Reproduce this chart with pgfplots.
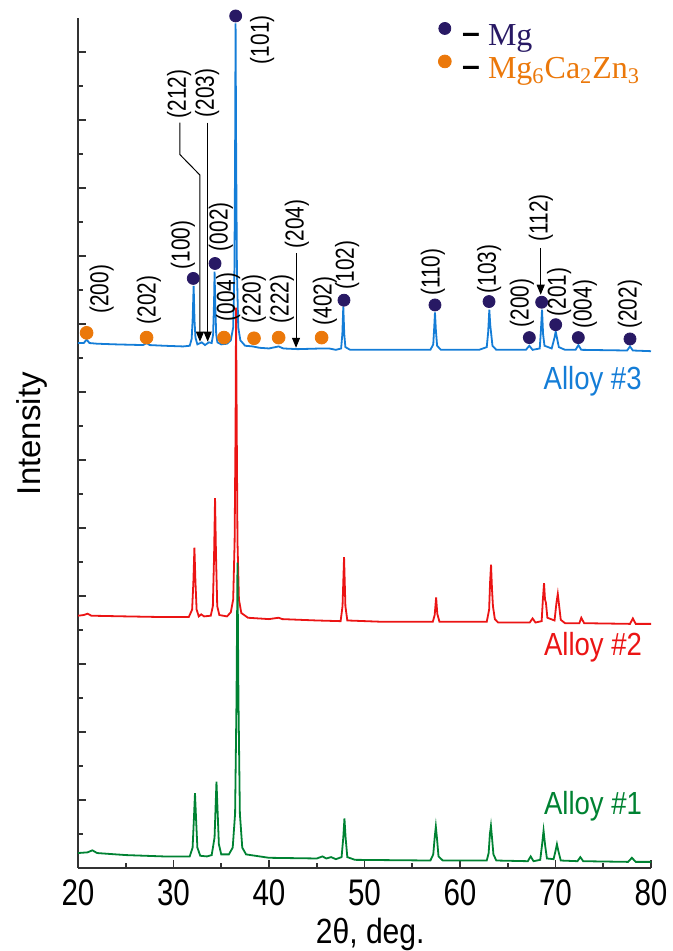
\documentclass[border=0pt]{standalone}
\usepackage{fontspec}
\setmainfont{Liberation Sans}
\newfontfamily\ticknarrow{Liberation Sans}[FakeStretch=0.80]
\newfontfamily\narrow{Liberation Sans}[FakeStretch=0.86]
\newfontfamily\annfont{Liberation Sans}[FakeStretch=0.80]
\newfontfamily\timesfont{Liberation Serif}
\usepackage{pgfplots}
\pgfplotsset{compat=1.18}
\usetikzlibrary{calc,arrows.meta}
\definecolor{cblue}{RGB}{20,125,215}
\definecolor{cred}{RGB}{235,20,20}
\definecolor{cgreen}{RGB}{0,130,50}
\definecolor{cnavy}{RGB}{40,25,100}
\definecolor{corange}{RGB}{235,120,10}
\definecolor{caxis}{RGB}{50,50,50}
\tikzset{ann/.style={rotate=90, inner sep=0pt, font=\annfont\fontsize{13}{13}\selectfont},
  arr/.style={line width=0.5pt, -{Triangle[length=5pt,width=4pt]}}}
\pgfplotsset{dotlegend/.style={legend image code/.code={\draw[##1] plot coordinates {(3pt,3.8pt)};}}}
\newcommand{\ldash}{\raisebox{0.8pt}{\rmfamily\bfseries –}}
\begin{document}
\begin{tikzpicture}
\begin{axis}[name=ax,
  scale only axis, width=286.5pt, height=425pt,
  xmin=20, xmax=80, ymin=0, ymax=12.5,
  axis lines*=left, clip=false,
  axis line style={caxis, line width=1pt},
  every tick/.style={caxis, line width=0.8pt},
  tick align=inside,
  major tick length=4pt, minor tick length=2.5pt,
  xtick={20,30,...,80}, minor x tick num=1,
  ytick={0,1,...,12}, minor y tick num=1, yticklabels={},
  /pgf/number format/assume math mode=true,
  xticklabel style={font=\ticknarrow\fontsize{18.5}{20}\selectfont, anchor=north, inner sep=0pt, yshift=-5.5pt},
  xlabel={2θ, deg.},
  xlabel style={at={(axis description cs:0.51,0)}, anchor=base, inner sep=0pt, yshift=-37.5pt, font=\narrow\fontsize{17.5}{19}\selectfont},
  ylabel={Intensity},
  ylabel style={at={(axis description cs:-0.0663,0.511)}, anchor=base, inner sep=0pt, font=\fontsize{16.5}{18}\selectfont},
  legend style={at={(axis cs:57.7,12.44)}, anchor=north west, draw=none, fill=none, inner sep=0pt,
    font=\timesfont\fontsize{16}{18}\selectfont, row sep=3pt, nodes={inner sep=0.5pt},
    /tikz/every odd column/.append style={column sep=5pt}},
  legend cell align=left,
]
% Alloy #3
\addplot[cblue, line width=0.9pt, forget plot] coordinates {
(20.0,7.72) (20.6,7.72) (20.9,7.77) (21.2,7.72) (22,7.71) (24,7.70) (26.8,7.69) (27.2,7.72) (27.5,7.69) (29,7.68) (31,7.67) (31.7,7.68) (31.9,7.78) (32.0,8.05) (32.11,8.56) (32.2,8.05) (32.3,7.80) (32.5,7.70) (32.95,7.73) (33.3,7.69) (33.7,7.73) (34.0,7.72) (34.15,7.85) (34.25,8.35) (34.3,8.77) (34.37,8.30) (34.47,7.85) (34.6,7.73) (35.0,7.70) (35.6,7.71) (36.0,7.76) (36.25,7.95) (36.38,8.8) (36.45,10.5) (36.5,12.42) (36.56,10.5) (36.64,8.8) (36.78,7.95) (37.0,7.76) (37.5,7.68) (38.3,7.67) (39,7.65) (40,7.64) (41.0,7.67) (41.5,7.64) (43,7.63) (45.5,7.64) (46.3,7.64) (47.0,7.62) (47.55,7.64) (47.68,7.85) (47.78,8.26) (47.88,7.85) (48.0,7.66) (48.5,7.62) (52,7.62) (56.9,7.62) (57.2,7.70) (57.3,7.95) (57.38,8.17) (57.47,7.92) (57.6,7.68) (58,7.62) (62,7.62) (62.8,7.66) (62.95,7.88) (63.07,8.21) (63.17,7.98) (63.27,7.85) (63.4,7.68) (63.8,7.62) (66.9,7.62) (67.26,7.68) (67.6,7.62) (68.35,7.64) (68.47,7.9) (68.59,8.21) (68.7,7.85) (68.85,7.68) (69.6,7.64) (69.9,7.80) (70.02,7.89) (70.12,7.82) (70.35,7.66) (71,7.62) (72.1,7.62) (72.4,7.69) (72.7,7.62) (77.5,7.61) (77.8,7.67) (78.1,7.61) (80,7.60)};
% Alloy #2
\addplot[cred, line width=0.9pt, forget plot] coordinates {
(20,3.71) (20.6,3.72) (21.0,3.74) (21.4,3.71) (25,3.70) (29,3.69) (31.6,3.69) (31.95,3.80) (32.08,4.2) (32.19,4.71) (32.3,4.2) (32.42,3.80) (32.65,3.70) (32.9,3.73) (33.2,3.70) (33.9,3.71) (34.12,3.85) (34.25,4.6) (34.35,5.44) (34.45,4.6) (34.58,3.85) (34.8,3.72) (35.6,3.70) (36.0,3.76) (36.25,3.95) (36.4,4.8) (36.5,6.5) (36.55,8.24) (36.62,6.5) (36.7,4.8) (36.85,3.95) (37.1,3.75) (37.8,3.68) (40,3.66) (41.0,3.68) (41.4,3.66) (45,3.64) (47.5,3.63) (47.7,3.85) (47.86,4.57) (48.0,3.85) (48.2,3.64) (52,3.62) (57.15,3.62) (57.35,3.72) (57.5,3.98) (57.62,3.74) (57.85,3.62) (62.8,3.62) (63.05,3.80) (63.15,4.2) (63.25,4.46) (63.35,4.1) (63.45,3.85) (63.65,3.66) (64,3.61) (67.3,3.61) (67.6,3.67) (67.9,3.61) (68.55,3.63) (68.68,3.95) (68.8,4.19) (68.9,3.95) (69.0,3.90) (69.15,3.68) (69.9,3.64) (70.1,3.90) (70.24,4.03) (70.33,3.92) (70.55,3.65) (71,3.60) (72.5,3.60) (72.7,3.68) (73,3.60) (77.8,3.59) (78.1,3.67) (78.4,3.59) (80,3.59)};
% Alloy #1
\addplot[cgreen, line width=0.9pt, forget plot] coordinates {
(20,0.22) (21.0,0.23) (21.5,0.26) (22,0.22) (25,0.19) (29,0.17) (31.7,0.17) (32.0,0.30) (32.13,0.7) (32.25,1.10) (32.37,0.7) (32.5,0.30) (32.8,0.18) (33.5,0.17) (34.0,0.19) (34.3,0.45) (34.42,0.95) (34.5,1.27) (34.6,0.9) (34.75,0.35) (35.0,0.20) (35.8,0.20) (36.2,0.30) (36.45,0.8) (36.6,2.5) (36.7,4.49) (36.8,2.5) (36.95,0.8) (37.2,0.30) (37.6,0.20) (40,0.15) (45,0.14) (45.6,0.17) (46.0,0.14) (46.5,0.16) (47.0,0.13) (47.6,0.16) (47.78,0.45) (47.9,0.73) (48.02,0.45) (48.2,0.16) (49,0.12) (56.9,0.11) (57.2,0.2) (57.35,0.45) (57.47,0.61) (57.6,0.42) (57.75,0.17) (58.2,0.11) (62.8,0.11) (63.0,0.22) (63.13,0.5) (63.24,0.62) (63.35,0.45) (63.5,0.2) (63.8,0.11) (67.1,0.10) (67.4,0.17) (67.7,0.10) (68.4,0.12) (68.6,0.35) (68.75,0.55) (68.9,0.35) (69.1,0.14) (69.8,0.13) (70.0,0.25) (70.15,0.35) (70.3,0.25) (70.55,0.11) (72.3,0.10) (72.6,0.16) (72.9,0.10) (77.6,0.09) (78.0,0.15) (78.4,0.09) (80,0.09)};
% phase markers
\addplot[only marks, mark=*, mark size=3pt, color=cnavy, mark options={fill=cnavy, draw=cnavy}, dotlegend] coordinates {
(32.07,8.67) (34.35,8.89) (36.51,12.53) (47.85,8.35) (57.38,8.28) (63.04,8.33) (67.26,7.80) (68.55,8.32) (70.02,7.99) (72.39,7.80) (77.8,7.78)};
\addlegendentry{\ldash\ \textcolor{cnavy}{Mg}}
\addplot[only marks, mark=*, mark size=3.2pt, color=corange, mark options={fill=corange, draw=corange}, dotlegend] coordinates {
(20.9,7.87) (27.18,7.80) (35.29,7.80) (38.43,7.79) (41.01,7.80) (45.51,7.80)};
\addlegendentry{\ldash\ \textcolor{corange}{Mg\textsubscript{6}Ca\textsubscript{2}Zn\textsubscript{3}}}
% reflection labels
\node[ann] at (axis cs:22.48,8.51) {(200)};
\node[ann] at (axis cs:27.43,8.35) {(202)};
\node[ann] at (axis cs:30.99,9.16) {(100)};
\node[ann] at (axis cs:30.58,11.38) {(212)};
\node[ann] at (axis cs:33.51,11.40) {(203)};
\node[ann] at (axis cs:34.97,9.43) {(002)};
\node[ann] at (axis cs:39.27,12.18) {(101)};
\node[ann] at (axis cs:35.71,8.40) {(004)};
\node[ann] at (axis cs:38.43,8.37) {(220)};
\node[ann] at (axis cs:41.36,8.37) {(222)};
\node[ann] at (axis cs:42.93,9.47) {(204)};
\node[ann] at (axis cs:45.86,8.34) {(402)};
\node[ann] at (axis cs:48.17,8.87) {(102)};
\node[ann] at (axis cs:57.17,8.76) {(110)};
\node[ann] at (axis cs:63.04,8.81) {(103)};
\node[ann] at (axis cs:66.49,8.31) {(200)};
\node[ann] at (axis cs:68.48,9.56) {(112)};
\node[ann] at (axis cs:70.37,8.47) {(201)};
\node[ann] at (axis cs:73.09,8.29) {(004)};
\node[ann] at (axis cs:77.80,8.29) {(202)};
% leader arrows
\draw[arr] (axis cs:30.68,10.96) -- (axis cs:30.68,10.49) -- (axis cs:32.77,10.19) -- (axis cs:32.77,7.74);
\draw[arr] (axis cs:33.58,10.96) -- (axis cs:33.58,7.74);
\draw[arr] (axis cs:42.83,9.04) -- (axis cs:42.83,7.65);
\draw[arr] (axis cs:68.45,9.12) -- (axis cs:68.45,8.43);
% sample labels
\node[anchor=base east, inner sep=0pt, text=cblue, font=\narrow\fontsize{16}{18}\selectfont] at (axis cs:79.06,7.04) {Alloy \#3};
\node[anchor=base east, inner sep=0pt, text=cred, font=\narrow\fontsize{16}{18}\selectfont] at (axis cs:79.1,3.13) {Alloy \#2};
\node[anchor=base east, inner sep=0pt, text=cgreen, font=\narrow\fontsize{16}{18}\selectfont] at (axis cs:79.1,0.78) {Alloy \#1};
\end{axis}
\pgfresetboundingbox
\path[use as bounding box] ($(ax.south west)+(-39pt,-41.5pt)$) rectangle ($(ax.north east)+(11pt,9pt)$);
\end{tikzpicture}
\end{document}
